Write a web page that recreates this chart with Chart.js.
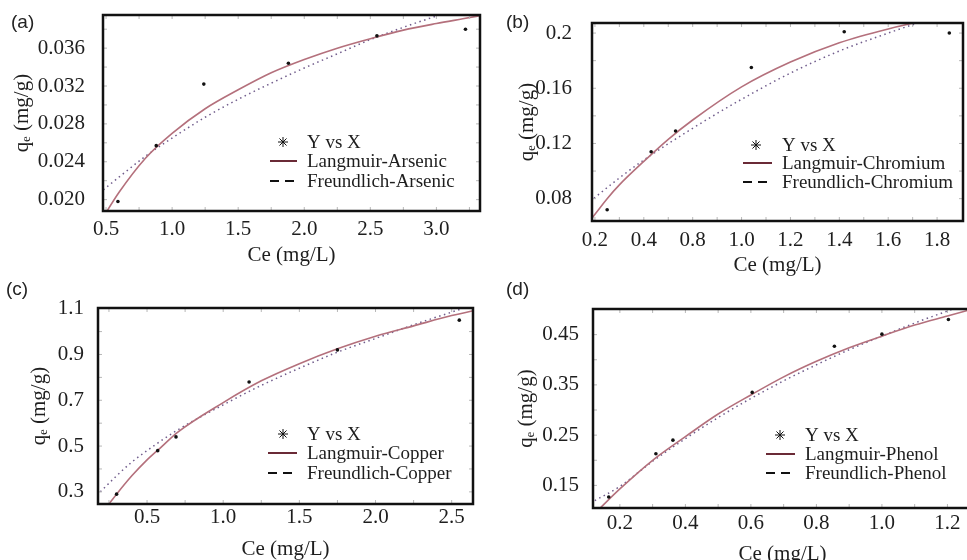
<!DOCTYPE html>
<html>
<head>
<meta charset="utf-8">
<script src="https://cdn.jsdelivr.net/npm/chart.js@4.4.0/dist/chart.umd.min.js"></script>
<style>
  html, body { margin: 0; padding: 0; background: #fff; width: 967px; height: 560px; overflow: hidden; }
  canvas { position: absolute; }
  .tag { position: absolute; font-family: 'Liberation Sans', Arial, sans-serif; font-size: 19px; line-height: 19px; color: #222; }
</style>
</head>
<body>
<canvas id="chartA" width="486" height="272" style="left:0;top:0"></canvas>
<canvas id="chartB" width="484" height="285" style="left:483px;top:0"></canvas>
<canvas id="chartC" width="483" height="290" style="left:0;top:280px"></canvas>
<canvas id="chartD" width="500" height="293" style="left:483px;top:280px"></canvas>
<div class="tag" style="left:11px;top:12px">(a)</div>
<div class="tag" style="left:506px;top:12px">(b)</div>
<div class="tag" style="left:6px;top:279px">(c)</div>
<div class="tag" style="left:506px;top:279px">(d)</div>
<script>
// (a) arsenic
const aCe = [0.59, 0.88, 1.24, 1.88, 2.55, 3.22];
const aQe = [0.0198, 0.0257, 0.0322, 0.0344, 0.0373, 0.0380];
const aLangX = [0.45, 0.6, 0.8, 1.0, 1.25, 1.5, 1.75, 2.0, 2.25, 2.5, 2.75, 3.0, 3.2, 3.4];
const aLangY = [0.0175, 0.0208, 0.0244, 0.0270, 0.0296, 0.0316, 0.0334, 0.0348, 0.0360, 0.0370, 0.0379, 0.0386, 0.0391, 0.0396];
const aFreuX = [0.45, 0.6, 0.8, 1.0, 1.25, 1.5, 1.75, 2.0, 2.25, 2.5, 2.75, 3.0, 3.2, 3.4];
const aFreuY = [0.0207, 0.0224, 0.0246, 0.0265, 0.0287, 0.0306, 0.0323, 0.0339, 0.0354, 0.0369, 0.0382, 0.0394, 0.0404, 0.0413];
const aXTicks = [0.5, 1.0, 1.5, 2.0, 2.5, 3.0];
const aXLabels = ['0.5', '1.0', '1.5', '2.0', '2.5', '3.0'];
const aYTicks = [0.020, 0.024, 0.028, 0.032, 0.036];
const aYLabels = ['0.020', '0.024', '0.028', '0.032', '0.036'];

// (b) chromium
const bCe = [0.45, 0.63, 0.73, 1.04, 1.42, 1.85];
const bQe = [0.072, 0.114, 0.129, 0.175, 0.201, 0.200];
const bLangX = [0.38, 0.45, 0.5, 0.6, 0.7, 0.8, 1.0, 1.2, 1.4, 1.6, 1.8, 1.95];
const bLangY = [0.064, 0.080, 0.090, 0.107, 0.123, 0.137, 0.161, 0.179, 0.193, 0.203, 0.211, 0.216];
const bFreuX = [0.38, 0.5, 0.6, 0.8, 1.0, 1.2, 1.4, 1.6, 1.8, 1.95];
const bFreuY = [0.078, 0.095, 0.108, 0.131, 0.152, 0.171, 0.187, 0.200, 0.212, 0.221];
const bXTicks = [0.4, 0.6, 0.8, 1.0, 1.2, 1.4, 1.6, 1.8];
const bXLabels = ['0.2', '0.4', '0.8', '1.0', '1.2', '1.4', '1.6', '1.8'];
const bYTicks = [0.08, 0.12, 0.16, 0.2];
const bYLabels = ['0.08', '0.12', '0.16', '0.2'];

// (c) copper
const cCe = [0.30, 0.57, 0.69, 1.17, 1.75, 2.55];
const cQe = [0.29, 0.48, 0.54, 0.78, 0.92, 1.05];
const cLangX = [0.2, 0.3, 0.4, 0.5, 0.6, 0.7, 1.0, 1.25, 1.5, 1.75, 2.0, 2.25, 2.5, 2.7];
const cLangY = [0.205, 0.29, 0.37, 0.44, 0.50, 0.56, 0.69, 0.785, 0.86, 0.925, 0.98, 1.025, 1.07, 1.10];
const cFreuX = [0.17, 0.3, 0.4, 0.5, 0.7, 1.0, 1.25, 1.5, 1.75, 2.0, 2.25, 2.5, 2.7];
const cFreuY = [0.285, 0.37, 0.43, 0.48, 0.57, 0.68, 0.765, 0.84, 0.91, 0.97, 1.03, 1.085, 1.13];
const cXTicks = [0.5, 1.0, 1.5, 2.0, 2.5];
const cXLabels = ['0.5', '1.0', '1.5', '2.0', '2.5'];
const cYTicks = [0.3, 0.5, 0.7, 0.9, 1.1];
const cYLabels = ['0.3', '0.5', '0.7', '0.9', '1.1'];

// (d) phenol
const dCe = [0.166, 0.31, 0.362, 0.604, 0.855, 1.0, 1.203];
const dQe = [0.127, 0.213, 0.240, 0.335, 0.427, 0.451, 0.480];
const dLangX = [0.12, 0.14, 0.2, 0.3, 0.4, 0.5, 0.6, 0.7, 0.8, 0.9, 1.0, 1.1, 1.2, 1.3];
const dLangY = [0.092, 0.105, 0.143, 0.200, 0.247, 0.292, 0.330, 0.366, 0.397, 0.424, 0.447, 0.469, 0.487, 0.505];
const dFreuX = [0.11, 0.2, 0.3, 0.4, 0.5, 0.6, 0.7, 0.8, 0.9, 1.0, 1.1, 1.2, 1.3];
const dFreuY = [0.115, 0.148, 0.198, 0.243, 0.285, 0.323, 0.358, 0.390, 0.420, 0.447, 0.473, 0.497, 0.520];
const dXTicks = [0.2, 0.4, 0.6, 0.8, 1.0, 1.2];
const dXLabels = ['0.2', '0.4', '0.6', '0.8', '1.0', '1.2'];
const dYTicks = [0.15, 0.25, 0.35, 0.45];
const dYLabels = ['0.15', '0.25', '0.35', '0.45'];

const serif = 'Liberation Serif';
const textColor = '#1e1e1e';
const langColor = 'rgb(180,112,124)';
const freuColor = 'rgb(112,92,140)';

// black frame + small gray inner ticks
const frame = {
    id: 'frame',
    afterDatasetsDraw(chart) {
        const ctx = chart.ctx;
        const a = chart.chartArea;
        ctx.save();
        ctx.strokeStyle = '#b8b8b8';
        ctx.lineWidth = 1;
        ['x', 'y'].forEach(id => {
            const s = chart.scales[id];
            const vals = s.ticks.map(t => t.value);
            const all = [];
            for (let i = 0; i < vals.length; i++) {
                all.push(vals[i]);
                if (i < vals.length - 1) all.push((vals[i] + vals[i + 1]) / 2);
            }
            if (vals.length > 1) {
                const st = vals[1] - vals[0];
                all.push(vals[0] - st / 2, vals[vals.length - 1] + st / 2);
            }
            all.forEach(v => {
                const p = s.getPixelForValue(v);
                ctx.beginPath();
                if (id === 'x') {
                    if (p <= a.left + 2 || p >= a.right - 2) return;
                    ctx.moveTo(p, a.top); ctx.lineTo(p, a.top + 4);
                    ctx.moveTo(p, a.bottom); ctx.lineTo(p, a.bottom - 4);
                } else {
                    if (p <= a.top + 2 || p >= a.bottom - 2) return;
                    ctx.moveTo(a.left, p); ctx.lineTo(a.left + 4, p);
                    ctx.moveTo(a.right, p); ctx.lineTo(a.right - 4, p);
                }
                ctx.stroke();
            });
        });
        ctx.strokeStyle = '#111';
        ctx.lineWidth = 2.5;
        ctx.strokeRect(a.left, a.top, a.right - a.left, a.bottom - a.top);
        ctx.restore();
    }
};

// legend drawn inside the plot area
const innerLegend = {
    id: 'innerLegend',
    afterDraw(chart, args, opts) {
        const ctx = chart.ctx;
        const a = chart.chartArea;
        const ds = chart.data.datasets;
        const x = a.left, y = a.top;
        ctx.save();
        ctx.strokeStyle = '#111';
        Chart.helpers.drawPoint(ctx, { pointStyle: 'star', radius: 5, borderWidth: 2.6 }, x + opts.markX, y + opts.rows[0]);
        ctx.lineWidth = 2;
        ctx.strokeStyle = '#6a2a36';
        ctx.beginPath();
        ctx.moveTo(x + opts.line[0], y + opts.rows[1]);
        ctx.lineTo(x + opts.line[1], y + opts.rows[1]);
        ctx.stroke();
        ctx.strokeStyle = '#111';
        ctx.setLineDash([9, 6]);
        ctx.beginPath();
        ctx.moveTo(x + opts.line[0], y + opts.rows[2]);
        ctx.lineTo(x + opts.line[1], y + opts.rows[2]);
        ctx.stroke();
        ctx.setLineDash([]);
        ctx.font = '19px "' + serif + '"';
        ctx.fillStyle = textColor;
        ctx.textBaseline = 'middle';
        for (let i = 0; i < 3; i++) {
            ctx.fillText(ds[i].label, x + opts.textX, y + opts.rows[i] + 1);
        }
        ctx.restore();
    }
};

function toPoints(xs, ys) {
    return xs.map((v, i) => ({ x: v, y: ys[i] }));
}

function makePanel(id, d, g) {
    const font = { family: serif, size: 21 };
    return new Chart(document.getElementById(id), {
        type: 'scatter',
        data: {
            datasets: [
                {
                    label: 'Y vs X',
                    data: toPoints(d.ce, d.qe),
                    pointRadius: 1.8,
                    pointBackgroundColor: '#111',
                    pointBorderWidth: 0
                },
                {
                    label: 'Langmuir-' + d.name,
                    data: toPoints(d.langX, d.langY),
                    showLine: true,
                    pointRadius: 0,
                    borderColor: langColor,
                    borderWidth: 1.6,
                    cubicInterpolationMode: 'monotone'
                },
                {
                    label: 'Freundlich-' + d.name,
                    data: toPoints(d.freuX, d.freuY),
                    showLine: true,
                    pointRadius: 0,
                    borderColor: freuColor,
                    borderWidth: 1.5,
                    borderDash: [1.5, 3.5],
                    cubicInterpolationMode: 'monotone'
                }
            ]
        },
        options: {
            responsive: false,
            animation: false,
            layout: { padding: { left: 0, right: g.padRight, top: g.padTop, bottom: 0 } },
            plugins: {
                legend: { display: false },
                tooltip: { enabled: false },
                innerLegend: g.legend
            },
            scales: {
                x: {
                    type: 'linear',
                    min: g.xMin, max: g.xMax,
                    grid: { display: false },
                    border: { display: false },
                    afterBuildTicks: s => { s.ticks = d.xTicks.map(v => ({ value: v })); },
                    afterFit: s => { s.height = g.xHeight; s.paddingLeft = 0; s.paddingRight = 0; },
                    ticks: {
                        font: font, color: textColor, padding: g.xTickPad,
                        autoSkip: false, maxRotation: 0,
                        callback: (v, i) => d.xLabels[i]
                    },
                    title: { display: true, text: 'Ce (mg/L)', font: font, color: textColor, padding: { top: 0, bottom: g.xTitlePad } }
                },
                y: {
                    type: 'linear',
                    min: g.yMin, max: g.yMax,
                    grid: { display: false },
                    border: { display: false },
                    afterBuildTicks: s => { s.ticks = d.yTicks.map(v => ({ value: v })); },
                    afterFit: s => { s.width = g.yWidth; s.paddingTop = 0; s.paddingBottom = 0; },
                    ticks: {
                        font: font, color: textColor, padding: g.yTickPad,
                        autoSkip: false,
                        callback: (v, i) => d.yLabels[i]
                    },
                    title: { display: true, text: 'q\u2091 (mg/g)', font: font, color: textColor, padding: { top: g.yTitlePad, bottom: 0 } }
                }
            }
        },
        plugins: [frame, innerLegend]
    });
}

makePanel('chartA',
    { name: 'Arsenic', ce: aCe, qe: aQe, langX: aLangX, langY: aLangY, freuX: aFreuX, freuY: aFreuY,
      xTicks: aXTicks, xLabels: aXLabels, yTicks: aYTicks, yLabels: aYLabels },
    { xMin: 0.477, xMax: 3.33, yMin: 0.0188, yMax: 0.0395, padRight: 6, padTop: 15, xHeight: 61, yWidth: 103,
      xTickPad: -2, xTitlePad: 4, yTickPad: 10, yTitlePad: 10,
      legend: { markX: 180, textX: 204, line: [167, 194], rows: [127, 146, 166] } });

makePanel('chartB',
    { name: 'Chromium', ce: bCe, qe: bQe, langX: bLangX, langY: bLangY, freuX: bFreuX, freuY: bFreuY,
      xTicks: bXTicks, xLabels: bXLabels, yTicks: bYTicks, yLabels: bYLabels },
    { xMin: 0.388, xMax: 1.906, yMin: 0.0638, yMax: 0.2073, padRight: 4, padTop: 23, xHeight: 64, yWidth: 109,
      xTickPad: -1, xTitlePad: 7, yTickPad: 12, yTitlePad: 32,
      legend: { markX: 164, textX: 190, line: [151, 180], rows: [122, 140, 159] } });

makePanel('chartC',
    { name: 'Copper', ce: cCe, qe: cQe, langX: cLangX, langY: cLangY, freuX: cFreuX, freuY: cFreuY,
      xTicks: cXTicks, xLabels: cXLabels, yTicks: cYTicks, yLabels: cYLabels },
    { xMin: 0.178, xMax: 2.64, yMin: 0.247, yMax: 1.103, padRight: 10, padTop: 28, xHeight: 66, yWidth: 98,
      xTickPad: -7, xTitlePad: 8, yTickPad: 6, yTitlePad: 27,
      legend: { markX: 185, textX: 209, line: [170, 199], rows: [126, 145, 165] } });

makePanel('chartD',
    { name: 'Phenol', ce: dCe, qe: dQe, langX: dLangX, langY: dLangY, freuX: dFreuX, freuY: dFreuY,
      xTicks: dXTicks, xLabels: dXLabels, yTicks: dYTicks, yLabels: dYLabels },
    { xMin: 0.118, xMax: 1.275, yMin: 0.105, yMax: 0.501, padRight: 11, padTop: 29, xHeight: 65, yWidth: 110,
      xTickPad: -5, xTitlePad: 6, yTickPad: 6, yTitlePad: 31,
      legend: { markX: 187, textX: 212, line: [173, 202], rows: [126, 145, 164] } });
</script>
</body>
</html>
